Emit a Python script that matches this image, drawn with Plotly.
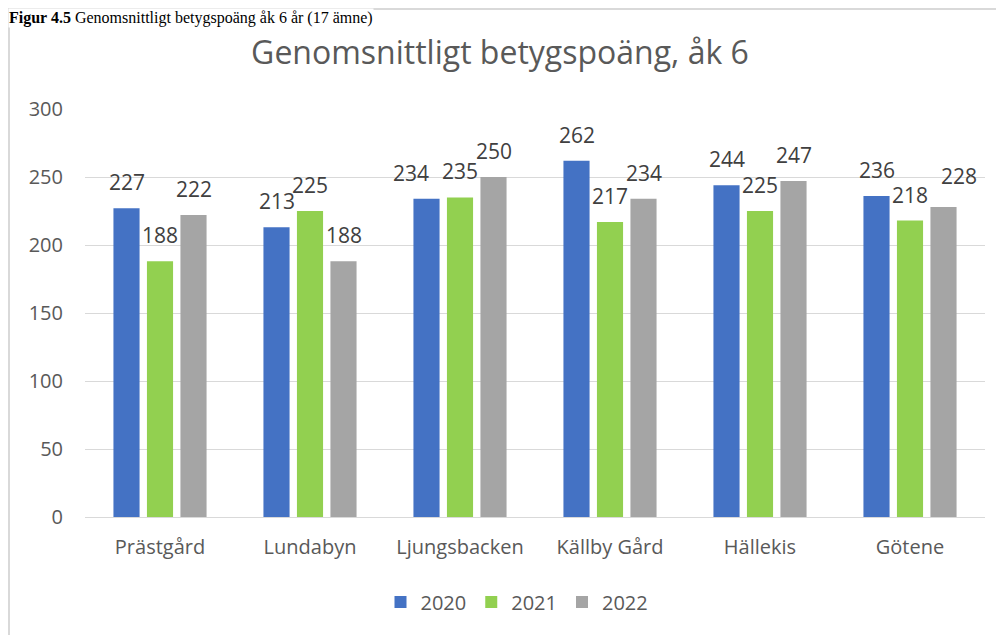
import plotly.graph_objects as go

categories = ["Prästgård", "Lundabyn", "Ljungsbacken", "Källby Gård", "Hällekis", "Götene"]
years = ["2020", "2021", "2022"]
values_2020 = [227, 213, 234, 262, 244, 236]
values_2021 = [188, 225, 235, 217, 225, 218]
values_2022 = [222, 188, 250, 234, 247, 228]
colors = ["#4472C4", "#92D050", "#A5A5A5"]

FONT = "Open Sans, Noto Sans, sans-serif"
TXT = "#595959"
BARGAP = 0.33

series = [values_2020, values_2021, values_2022]

# label nudges (series index, category index) -> (xshift px, extra yshift px), as placed in the original
label_nudge = {(0, 2): (-16, 0), (2, 5): (15, 5)}

fig = go.Figure()
for name, vals, col in zip(years, series, colors):
    fig.add_trace(go.Bar(
        x=categories, y=vals, name=name, marker_color=col,
        marker_line_width=0,
    ))

# value labels above each bar (grouped offsets derived from bargap)
slot = (1 - BARGAP) / len(series)
for j, vals in enumerate(series):
    off = (j - (len(series) - 1) / 2) * slot
    for i, v in enumerate(vals):
        dx, dy = label_nudge.get((j, i), (0, 0))
        fig.add_annotation(x=i + off, y=v, xref="x", yref="y", text=str(v),
                           showarrow=False, yanchor="bottom", yshift=10 + dy, xshift=dx,
                           font=dict(size=21, color="#404040", family=FONT))

# figure is rendered with an 8px page offset; coordinates below are in figure pixels
W, H = 996, 627
L, R, T, B = 77, 19, 101, 118
pw = W - L - R
ph = H - T - B


def px(x):
    return (x - L) / pw


def py(y):
    return (H - B - y) / ph


fig.update_layout(
    width=W, height=H,
    margin=dict(l=L, r=R, t=T, b=B, autoexpand=False),
    paper_bgcolor="white", plot_bgcolor="white",
    barmode="group", bargap=BARGAP, bargroupgap=0.22,
    font=dict(family=FONT, color=TXT),
    title=dict(text="Genomsnittligt betygspoäng, åk 6", x=492 / W, xanchor="center",
               y=1 - 45 / H, yanchor="middle",
               font=dict(size=32, color=TXT, family=FONT)),
    xaxis=dict(showgrid=False, showline=True, linecolor="#D9D9D9", linewidth=1,
               ticks="", ticklabelstandoff=12,
               tickfont=dict(size=20, color=TXT, family=FONT)),
    yaxis=dict(range=[0, 300], dtick=50, showgrid=True, gridcolor="#D9D9D9",
               gridwidth=1, zeroline=False, ticks="", showline=False,
               ticklabelstandoff=21,
               tickfont=dict(size=20, color=TXT, family=FONT)),
    legend=dict(orientation="h", x=px(509), xanchor="center", y=py(594), yanchor="middle",
                font=dict(size=20, color=TXT, family=FONT), traceorder="normal",
                itemwidth=30),
    showlegend=True,
)

fig.add_shape(type="rect", xref="paper", yref="paper",
              x0=px(1), x1=px(1010), y0=py(640), y1=py(1),
              line=dict(color="#D9D9D9", width=2), fillcolor="rgba(0,0,0,0)", layer="below")

fig.add_annotation(xref="paper", yref="paper", x=px(0), y=py(0), xanchor="left", yanchor="top",
                   text="<b>Figur 4.5</b> Genomsnittligt betygspoäng åk 6 år (17 ämne)",
                   showarrow=False, bgcolor="white", borderpad=0,
                   font=dict(family="Liberation Serif, Times New Roman, serif",
                             size=16, color="black"))

fig.write_html("out.html")
